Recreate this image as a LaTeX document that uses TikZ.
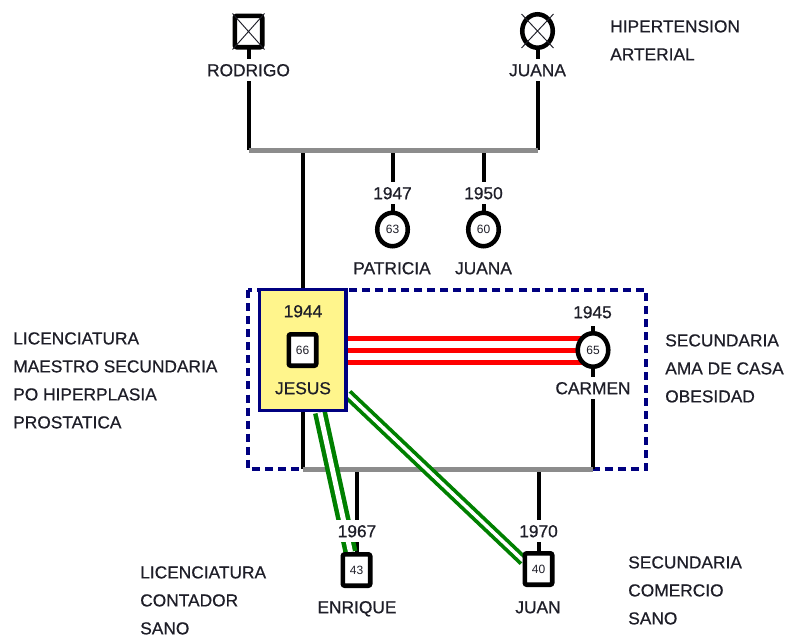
\documentclass[tikz,border=0pt]{standalone}
\usepackage{fontspec}
\setmainfont{Liberation Sans}[BoldFont={Liberation Sans}, BoldFeatures={FakeBold=0.6}]
\usetikzlibrary{shapes.geometric,calc}
\pgfdeclarelayer{back}
\pgfdeclarelayer{mid}
\pgfsetlayers{back,mid,main}
\definecolor{ink}{RGB}{30,30,40}
\definecolor{navy}{RGB}{0,0,128}
\definecolor{boxfill}{RGB}{255,245,140}
\definecolor{grn}{RGB}{0,128,0}
\definecolor{sibgray}{RGB}{140,140,140}
\begin{document}
\begin{tikzpicture}[x=0.75pt,y=-0.75pt,
  txt/.style={font=\fontsize{13pt}{21pt}\selectfont\bfseries, text=ink, inner sep=0pt},
  lbl/.style={txt, fill=white, text height=9.3pt, text depth=0pt, inner xsep=1pt, inner ysep=3.5pt},
  note/.style={txt, align=left, anchor=north west},
  male/.style={rectangle, draw=black, line width=3.4pt, fill=white, minimum width=20.6pt,
    minimum height=23.6pt, rounded corners=1.5pt, inner sep=0pt, text=ink,
    font=\fontsize{9pt}{9pt}\selectfont},
  female/.style={ellipse, draw=black, line width=3.4pt, fill=white, minimum width=22.9pt,
    minimum height=25.1pt, inner sep=0pt, text=ink, font=\fontsize{9pt}{9pt}\selectfont},
  cross/.style={line width=0.7pt, draw=ink},
  gen/.style={line width=3pt, draw=black},
  sibline/.style={line width=3.75pt, draw=sibgray},
  frame/.style={line width=2.6pt, draw=navy, dash pattern=on 6pt off 3.8pt},
  bond/.style={line width=3.75pt, draw=red},
  tieA/.style={draw=grn, line width=3.4pt, double=white, double distance=3.75pt},
  tieB/.style={draw=grn, line width=2.8pt, double=white, double distance=2.6pt},
  self/.style={rectangle, draw=navy, line width=2.6pt, fill=boxfill, minimum width=64.9pt,
    minimum height=91.1pt, inner sep=0pt}
]
\useasboundingbox (0,0) rectangle (798,636);

% people
\node[male] (R) at (248.5,31.5) {};
\node[female] (Mt) at (537.5,31) {};
\node[female] (P) at (392.5,229.5) {63};
\node[female] (Jn) at (483.5,229.5) {60};
\node[self] (J) at (302.5,350) {};
\node[male] (Js) at (302.5,350) {66};
\node[female] (C) at (593,350) {65};
\node[male] (E) at (356.5,570) {43};
\node[male] (Ju) at (538.5,569) {40};

% deceased marks
\draw[cross] (R.north west) -- (R.south east) (R.north east) -- (R.south west);
\draw[cross] ($(Mt.center)+(-16,-17)$) -- ($(Mt.center)+(16,17)$)
             ($(Mt.center)+(16,-17)$) -- ($(Mt.center)+(-16,17)$);

% family lines
\coordinate (s1) at (248.5,150);
\coordinate (s2) at (537.5,150);
\coordinate (m1) at (302.5,469);
\coordinate (m2) at (593,469);
\begin{pgfonlayer}{back}
  \draw[frame] (248,290) rectangle (646,469);
  \draw[gen] (R.center) -- (s1);
  \draw[gen] (Mt.center) -- (s2);
  \draw[gen] (J.center |- s1) -- (J.center);
  \draw[gen] (P.center |- s1) -- (P.center);
  \draw[gen] (Jn.center |- s1) -- (Jn.center);
  \draw[sibline] (s1) -- (s2);
  \draw[gen] (J.center) -- (m1);
  \draw[gen] (C.center) -- (m2);
  \draw[gen] (E.center |- m1) -- (E.center);
  \draw[gen] (Ju.center |- m1) -- (Ju.center);
  \draw[sibline] (m1) -- (m2);
  \draw[gen] (C.north) -- ++(0,-5);
\end{pgfonlayer}
\begin{pgfonlayer}{mid}
  \draw[bond] ($(J.east)+(0,-12)$) -- ($(C.center)+(0,-12)$);
  \draw[bond] (J.east) -- (C.center);
  \draw[bond] ($(J.east)+(0,12)$) -- ($(C.center)+(0,12)$);
  \draw[tieA] ($(J.south)+(17.5,0)$) -- ($(E.north)+(-6,0)$);
  \draw[tieB] ($(J.east)+(0,44)$) -- ($(Ju.west)+(1,-8)$);
\end{pgfonlayer}

% names and years
\node[lbl] (lR) at (248.5,70) {RODRIGO};
\node[lbl] (lMt) at (537.5,70) {JUANA};
\node[lbl] (yP) at (392.5,193) {1947};
\node[lbl] (yJn) at (483.5,193) {1950};
\node[lbl] (lP) at (392,268) {PATRICIA};
\node[lbl] (lJn) at (483.5,268) {JUANA};
\node[txt, text height=9.3pt, text depth=0pt] (yJ) at (303,311) {1944};
\node[txt, text height=9.3pt, text depth=0pt] (lJ) at (303,388) {JESUS};
\node[lbl] (yC) at (592.5,312) {1945};
\node[lbl] (lC) at (593,388) {CARMEN};
\node[lbl] (yE) at (357,531) {1967};
\node[lbl] (yJu) at (538.5,531) {1970};
\node[lbl] (lE) at (357,607) {ENRIQUE};
\node[lbl] (lJu) at (538,607) {JUAN};

% notes
\node[note] (nMt) at (610,20) {HIPERTENSION\\ARTERIAL};
\node[note] (nJ) at (13,332) {LICENCIATURA\\MAESTRO SECUNDARIA\\PO HIPERPLASIA\\PROSTATICA};
\node[note] (nC) at (665,334) {SECUNDARIA\\AMA DE CASA\\OBESIDAD};
\node[note] (nE) at (140,566) {LICENCIATURA\\CONTADOR\\SANO};
\node[note] (nJu) at (628,556) {SECUNDARIA\\COMERCIO\\SANO};
\end{tikzpicture}
\end{document}
